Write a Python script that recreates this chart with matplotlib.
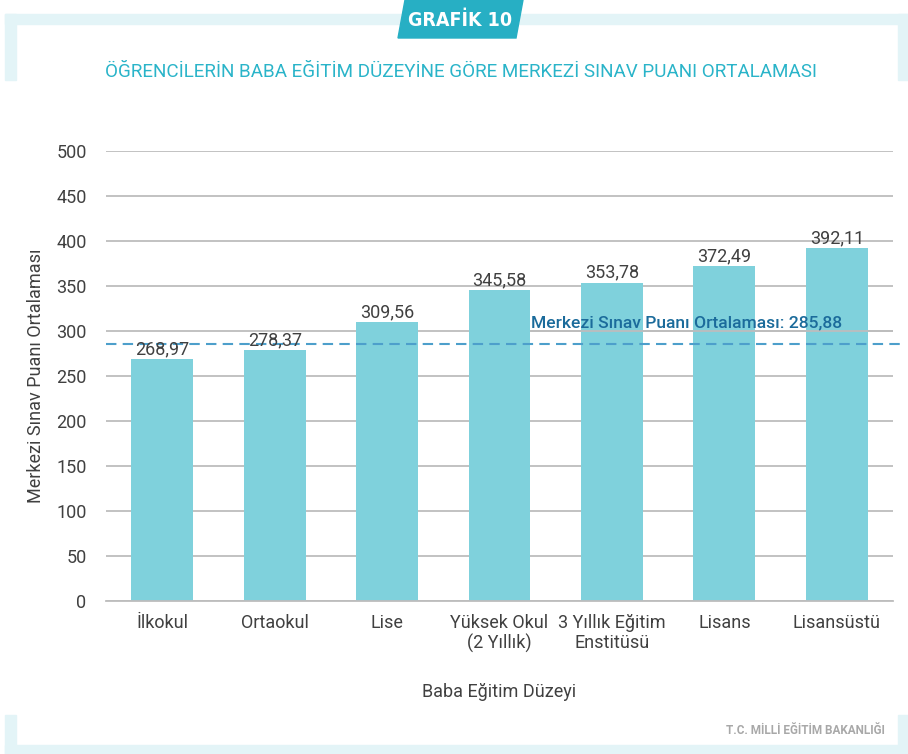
import matplotlib
matplotlib.use("Agg")
import matplotlib.pyplot as plt
from matplotlib.patches import Rectangle, Polygon

categories = ["İlkokul", "Ortaokul", "Lise", "Yüksek Okul\n(2 Yıllık)",
              "3 Yıllık Eğitim\nEnstitüsü", "Lisans", "Lisansüstü"]
values = [268.97, 278.37, 309.56, 345.58, 353.78, 372.49, 392.11]
value_labels = ["268,97", "278,37", "309,56", "345,58", "353,78", "372,49", "392,11"]
mean_value = 285.88
mean_label = "Merkezi Sınav Puanı Ortalaması: 285,88"
yticks = [0, 50, 100, 150, 200, 250, 300, 350, 400, 450, 500]

plt.rcParams['font.family'] = ['Roboto', 'DejaVu Sans']
narrow = ['DejaVu Sans']

W, H = 908, 754
fig = plt.figure(figsize=(W / 100, H / 100), dpi=100)

# frame (light blue brackets)
fc = "#e3f4f7"
def rect(x, y, w, h, color=fc):
    fig.patches.append(Rectangle((x / W, 1 - (y + h) / H), w / W, h / H,
                                 transform=fig.transFigure, color=color, zorder=0))
rect(5, 14, 903, 10)
rect(5, 14, 11, 66)
rect(898, 14, 10, 66)
rect(5, 745, 903, 9)
rect(5, 715, 11, 39)
rect(898, 715, 10, 39)

# badge
pts = [(398, 38), (405, 0), (523, 0), (516, 38)]
fig.patches.append(Polygon([(x / W, 1 - y / H) for x, y in pts], closed=True,
                           transform=fig.transFigure, color="#27afc4", zorder=1))
fig.text(460 / W, 1 - 20 / H, "GRAFİK 10", color="white", fontsize=14,
         fontweight="bold", family=narrow, stretch="condensed",
         ha="center", va="center", zorder=2)

# title
fig.text(461 / W, 1 - 72 / H,
         "ÖĞRENCİLERİN BABA EĞİTİM DÜZEYİNE GÖRE MERKEZİ SINAV PUANI ORTALAMASI",
         color="#2ab4c9", fontsize=13.6, ha="center", va="center")

# footer
fig.text(885 / W, 1 - 731 / H, "T.C. MİLLİ EĞİTİM BAKANLIĞI", color="#a8a8a8",
         fontsize=8.5, fontweight="bold", ha="right", va="center")

ax = fig.add_axes([106 / W, 1 - 601 / H, (893 - 106) / W, (601 - 151) / H])
x = list(range(len(categories)))
bars = ax.bar(x, values, width=0.55, color="#7fd1dc", zorder=2)
ax.set_xlim(-0.5, len(categories) - 0.5)
ax.set_ylim(0, 500)
ax.set_yticks(yticks)
ax.set_yticklabels([str(v) for v in yticks])
ax.set_xticks(x)
ax.set_xticklabels(categories, linespacing=1.15)
ax.tick_params(axis='y', length=0, pad=14, labelsize=13, labelcolor="#404040")
ax.tick_params(axis='x', length=0, pad=9, labelsize=13, labelcolor="#404040")
ax.grid(axis='y', color="#bdbdbd", linewidth=1.3, zorder=0)
ax.set_axisbelow(True)
for s in ["top", "right", "left"]:
    ax.spines[s].set_visible(False)
ax.spines["bottom"].set_color("#bdbdbd")
ax.spines["bottom"].set_linewidth(1.3)

for xi, v, lab in zip(x, values, value_labels):
    ax.annotate(lab, (xi, v), xytext=(0, 3.5), textcoords="offset points",
                ha="center", va="baseline", fontsize=13, color="#404040", zorder=5)

ax.axhline(mean_value, xmin=0, xmax=1.009, color="#4d9fcb", linewidth=1.5,
           linestyle=(0, (5, 3)), clip_on=False, zorder=3)
tx = 3.28
ax.text(tx, 301, mean_label, color="#1b6b9b", fontsize=12.6, fontweight="medium",
        ha="left", va="bottom", zorder=4)
ax.plot([tx, len(categories) - 0.5], [300, 300], color="#bdbdbd", linewidth=1.3, zorder=3)

ax.set_xlabel("Baba Eğitim Düzeyi", fontsize=13, color="#404040", labelpad=22)
ax.set_ylabel("Merkezi Sınav Puanı Ortalaması", fontsize=13, color="#404040", labelpad=8)

fig.savefig("out.png", dpi=100)
